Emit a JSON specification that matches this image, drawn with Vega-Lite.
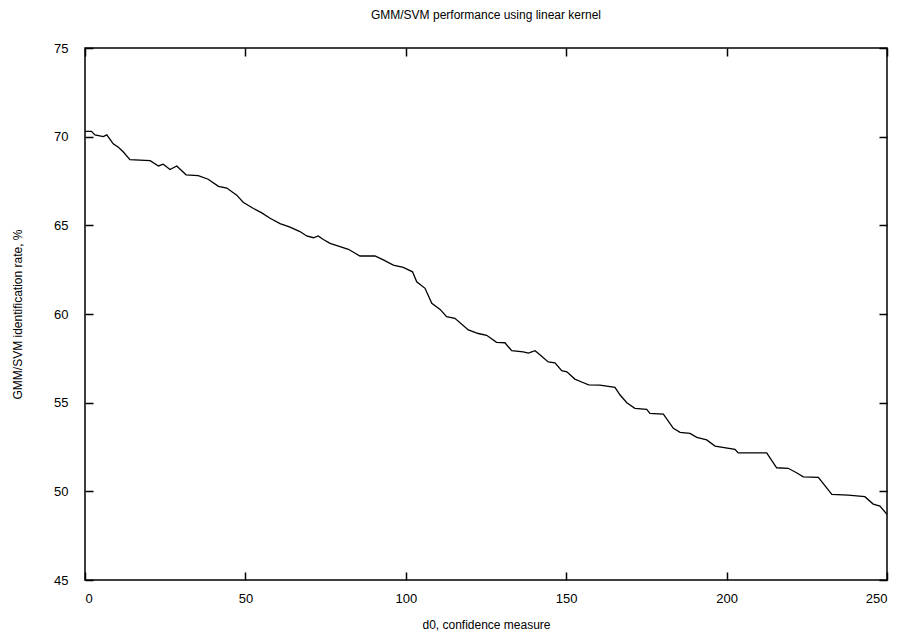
{
  "$schema": "https://vega.github.io/schema/vega-lite/v6.json",
  "width": 802,
  "height": 532,
  "autosize": {"type": "none"},
  "padding": {"left": 85, "top": 48, "right": 23, "bottom": 59},
  "background": "white",
  "title": {"text": "GMM/SVM performance using linear kernel", "font": "Liberation Sans", "fontSize": 12, "fontWeight": "normal", "color": "black", "offset": 20},
  "config": {
    "view": {"stroke": "black", "strokeWidth": 1.5},
    "axis": {"grid": false, "domain": false, "tickColor": "black", "tickSize": -8, "tickWidth": 1.5, "labelColor": "black", "labelFont": "Liberation Sans", "labelFontSize": 13, "titleFont": "Liberation Sans", "titleFontSize": 12, "titleFontWeight": "normal", "titleColor": "black"}
  },
  "data": {"values": [
    {"d": 0, "r": 70.3}, {"d": 2, "r": 70.3}, {"d": 3.1, "r": 70.1}, {"d": 5.7, "r": 70.0}, {"d": 6.8, "r": 70.1}, {"d": 8.8, "r": 69.6},
    {"d": 10.4, "r": 69.4}, {"d": 11.9, "r": 69.15}, {"d": 14, "r": 68.7}, {"d": 20.3, "r": 68.65}, {"d": 22.9, "r": 68.35},
    {"d": 24.4, "r": 68.45}, {"d": 26.5, "r": 68.15}, {"d": 28.6, "r": 68.35}, {"d": 31.5, "r": 67.85}, {"d": 35.3, "r": 67.8},
    {"d": 38.4, "r": 67.6}, {"d": 41.6, "r": 67.2}, {"d": 44.2, "r": 67.1}, {"d": 47.3, "r": 66.7}, {"d": 49.3, "r": 66.3},
    {"d": 52.5, "r": 65.95}, {"d": 55.1, "r": 65.7}, {"d": 57.7, "r": 65.4}, {"d": 60.8, "r": 65.1}, {"d": 63.9, "r": 64.9},
    {"d": 67, "r": 64.65}, {"d": 69.1, "r": 64.4}, {"d": 71.2, "r": 64.3}, {"d": 72.7, "r": 64.4}, {"d": 74.3, "r": 64.2},
    {"d": 76.4, "r": 63.98}, {"d": 79.5, "r": 63.8}, {"d": 82.1, "r": 63.65}, {"d": 85.7, "r": 63.27}, {"d": 90.4, "r": 63.27},
    {"d": 93, "r": 63.05}, {"d": 96.1, "r": 62.76}, {"d": 99.2, "r": 62.63}, {"d": 102.1, "r": 62.38}, {"d": 103.4, "r": 61.82},
    {"d": 106, "r": 61.45}, {"d": 108.1, "r": 60.6}, {"d": 110.7, "r": 60.26}, {"d": 112.7, "r": 59.85}, {"d": 115.3, "r": 59.76},
    {"d": 119.5, "r": 59.1}, {"d": 122.6, "r": 58.9}, {"d": 125.2, "r": 58.8}, {"d": 128.3, "r": 58.4}, {"d": 130.9, "r": 58.38},
    {"d": 133, "r": 57.93}, {"d": 136.6, "r": 57.87}, {"d": 138.2, "r": 57.8}, {"d": 140.3, "r": 57.93}, {"d": 141.8, "r": 57.7},
    {"d": 144.4, "r": 57.3}, {"d": 146.5, "r": 57.25}, {"d": 148.6, "r": 56.8}, {"d": 150.2, "r": 56.74}, {"d": 152.7, "r": 56.33},
    {"d": 155, "r": 56.15}, {"d": 157, "r": 56.0}, {"d": 160.5, "r": 55.99}, {"d": 165.2, "r": 55.86}, {"d": 166.8, "r": 55.43},
    {"d": 168.9, "r": 55.0}, {"d": 171.4, "r": 54.68}, {"d": 175.1, "r": 54.62}, {"d": 176.1, "r": 54.4}, {"d": 180.3, "r": 54.36},
    {"d": 183.4, "r": 53.55}, {"d": 185.5, "r": 53.33}, {"d": 188.6, "r": 53.27}, {"d": 190.7, "r": 53.04}, {"d": 193.8, "r": 52.9},
    {"d": 196.4, "r": 52.55}, {"d": 202.6, "r": 52.37}, {"d": 203.6, "r": 52.17}, {"d": 212.5, "r": 52.17}, {"d": 215.6, "r": 51.33},
    {"d": 219.2, "r": 51.3}, {"d": 221.8, "r": 51.05}, {"d": 223.9, "r": 50.82}, {"d": 228.6, "r": 50.79}, {"d": 232.8, "r": 49.83},
    {"d": 237.9, "r": 49.79}, {"d": 243.1, "r": 49.7}, {"d": 245.7, "r": 49.28}, {"d": 247.8, "r": 49.17}, {"d": 250, "r": 48.7}
  ]},
  "layer": [
    {
      "mark": {"type": "line", "color": "black", "strokeWidth": 1.3, "interpolate": "linear"},
      "encoding": {
        "x": {"field": "d", "type": "quantitative", "scale": {"domain": [0, 250], "nice": false, "zero": false},
              "axis": {"orient": "bottom", "title": "d0, confidence measure", "values": [0, 50, 100, 150, 200, 250], "labelPadding": 20, "titlePadding": 14}},
        "y": {"field": "r", "type": "quantitative", "scale": {"domain": [45, 75], "nice": false, "zero": false},
              "axis": {"orient": "left", "title": "GMM/SVM identification rate, %", "values": [45, 50, 55, 60, 65, 70, 75], "labelPadding": 25, "titlePadding": 29}}
      }
    },
    {
      "mark": {"type": "line", "opacity": 0},
      "encoding": {
        "x": {"field": "d", "type": "quantitative", "scale": {"domain": [0, 250], "nice": false, "zero": false},
              "axis": {"orient": "top", "title": null, "labels": false, "values": [0, 50, 100, 150, 200, 250]}},
        "y": {"field": "r", "type": "quantitative", "scale": {"domain": [45, 75], "nice": false, "zero": false},
              "axis": {"orient": "right", "title": null, "labels": false, "values": [45, 50, 55, 60, 65, 70, 75]}}
      }
    }
  ],
  "resolve": {"axis": {"x": "independent", "y": "independent"}}
}
